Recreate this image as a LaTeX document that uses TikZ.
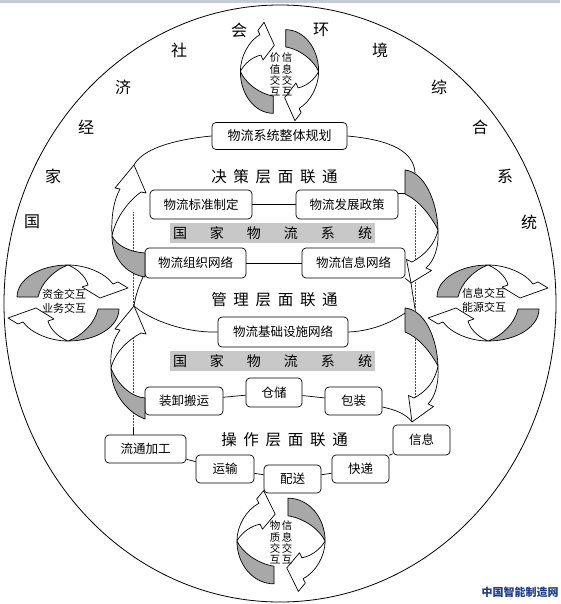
\documentclass[tikz,border=0pt]{standalone}
\usepackage{fontspec}
\setmainfont{Noto Sans CJK SC}
\definecolor{arrowgray}{RGB}{168,168,168}
\definecolor{bandgray}{RGB}{200,200,200}
\definecolor{topbar}{RGB}{196,202,212}
\definecolor{wmblue}{RGB}{30,60,140}
\newcommand\cycUpperArrow{%
  \filldraw[fill=arrowgray] (-51,-6) .. controls (-51,-24) and (-28,-38) .. (0,-38) .. controls (-14,-33) and (-27,-20) .. (-30,-6) -- cycle;
  \filldraw[fill=white] (0,-38) .. controls (18,-38) and (37,-30) .. (45,-19) -- (50,-21) -- (60,-15) -- (32,-5) -- (14,-16) -- (20,-18) .. controls (18,-26) and (10,-34) .. (0,-38) -- cycle;
}
\tikzset{
  cyc/.pic={\cycUpperArrow \begin{scope}[rotate=180]\cycUpperArrow\end{scope}},
  box/.style={draw, rounded corners=4pt, fill=white, inner sep=0pt, font=\fontsize{12.5}{14}\selectfont},
  ringtxt/.style={font=\fontsize{16}{16}\selectfont, inner sep=0pt},
  lvl/.style={font=\fontsize{15.5}{16}\selectfont, inner sep=0pt},
  band/.style={fill=bandgray, inner sep=0pt, font=\fontsize{14}{14}\selectfont, minimum width=205pt, minimum height=20pt},
  cyctxt/.style={font=\fontsize{10.5}{11.3}\selectfont, align=center, inner sep=0pt},
  sidetxt/.style={font=\fontsize{11}{14}\selectfont, align=center, inner sep=0pt},
  dotline/.style={densely dotted, line width=0.5pt, black!70},
}
\begin{document}
\begin{tikzpicture}[x=1pt, y=-1pt, line width=0.7pt, line join=round]
\useasboundingbox (0,0) rectangle (560,604);
\fill[white] (0,0) rectangle (560,604);
\fill[topbar] (0,0) rectangle (560,3);
\draw[line width=0.8pt] (280,303.5) ellipse [x radius=276pt, y radius=298.5pt];

% ring text
\node[ringtxt] (r1) at (32,222) {国};
\node[ringtxt] (r2) at (53,176) {家};
\node[ringtxt] (r3) at (86,127) {经};
\node[ringtxt] (r4) at (123,87) {济};
\node[ringtxt] (r5) at (179,50) {社};
\node[ringtxt] (r6) at (239,30) {会};
\node[ringtxt] (r7) at (321,30) {环};
\node[ringtxt] (r8) at (380,50) {境};
\node[ringtxt] (r9) at (439,87) {综};
\node[ringtxt] (r10) at (480,127) {合};
\node[ringtxt] (r11) at (505,176) {系};
\node[ringtxt] (r12) at (529,222) {统};

% bands
\node[band] (band1) at (272.5,233) {国\hspace{23pt}家\hspace{23pt}物\hspace{23pt}流\hspace{23pt}系\hspace{23pt}统};
\node[band] (band2) at (272.5,361) {国\hspace{23pt}家\hspace{23pt}物\hspace{23pt}流\hspace{23pt}系\hspace{23pt}统};

% dotted guide lines
\coordinate (ldot) at (133,427);
\draw[dotline] (133,212) -- (ldot);
\draw[dotline] (415,205) -- (415,410);

% level texts
\node[lvl] (lv1) at (274.5,177) {决\hspace{6.7pt}策\hspace{6.7pt}层\hspace{6.7pt}面\hspace{6.7pt}联\hspace{6.7pt}通};
\node[lvl] (lv2) at (274.5,300) {管\hspace{6.7pt}理\hspace{6.7pt}层\hspace{6.7pt}面\hspace{6.7pt}联\hspace{6.7pt}通};
\node[lvl] (lv3) at (284.5,440) {操\hspace{6.7pt}作\hspace{6.7pt}层\hspace{6.7pt}面\hspace{6.7pt}联\hspace{6.7pt}通};

% boxes
\node[box, minimum width=135pt, minimum height=27pt, font=\fontsize{13}{14}\selectfont] (gh) at (279.5,136) {物流系统整体规划};
\node[box, minimum width=102pt, minimum height=29pt] (bz) at (201,204.5) {物流标准制定};
\node[box, minimum width=102pt, minimum height=29pt] (fz) at (347,204.5) {物流发展政策};
\node[box, minimum width=101pt, minimum height=30pt] (zz) at (195.5,263) {物流组织网络};
\node[box, minimum width=103pt, minimum height=30pt] (xx) at (353.5,263) {物流信息网络};
\node[box, minimum width=130pt, minimum height=30pt] (jc) at (283,332) {物流基础设施网络};
\node[box, minimum width=78pt, minimum height=28pt] (zx) at (184,401) {装卸搬运};
\node[box, minimum width=56pt, minimum height=29pt] (cc) at (274,392.5) {仓储};
\node[box, minimum width=57pt, minimum height=28pt] (bzh) at (353.5,401) {包装};
\node[box, minimum width=57pt, minimum height=30pt] (xi) at (421.5,440) {信息};
\node[box, minimum width=81pt, minimum height=28pt] (lt) at (145.5,449) {流通加工};
\node[box, minimum width=58pt, minimum height=28pt] (ys) at (225,469) {运输};
\node[box, minimum width=57pt, minimum height=28pt] (ps) at (292.5,479) {配送};
\node[box, minimum width=57pt, minimum height=28pt] (kd) at (360.5,469) {快递};

% anchor points on the side arrows
\coordinate (l1tip) at (134,165);
\coordinate (l1tail) at (143,277);
\coordinate (l2tip) at (134,306);
\coordinate (r1top) at (415,173);
\coordinate (r1left) at (405,193);
\coordinate (r1tip) at (411,283);
\coordinate (r2top) at (415,309);
\coordinate (r2left) at (405,313);
\coordinate (r2tip) at (412,422);

% connectors
\draw (gh.west) .. controls (170,140) and (142,150) .. (l1tip);
\draw (gh.east) .. controls (392,140) and (414,152) .. (r1top);
\draw (fz.east |- r1left) -- (r1left);
\draw (bz.east) -- (fz.west);
\draw (zz.east) -- (xx.west);
\draw (xx.south east) -- (r1tip);
\draw (r1tip) -- (r2top);
\draw (l1tail) .. controls (138,288) and (135,298) .. (l2tip);
\draw (l2tip) .. controls (150,320) and (185,333) .. (jc.west);
\draw (jc.east) .. controls (375,331) and (395,320) .. (r2left);
\draw (zx) -- (cc);
\draw (cc) -- (bzh);
\draw ([yshift=-6pt]bzh.east) .. controls +(14,3) and +(-6,-8) .. (r2tip);
\draw (xi) -- (kd);
\draw (kd) -- (ps);
\draw (ps) -- (ys);
\draw (ys) -- (lt);
\draw (ldot) -- (ldot |- lt.north);

% left arrow 1
\filldraw[fill=arrowgray] (112,236) .. controls (112,258) and (126,274) .. (145,277) -- (145,253) .. controls (130,252) and (117,246) .. (112,236) -- cycle;
\filldraw[fill=white] (112,236) .. controls (111,215) and (114,200) .. (120,189) -- (115,188) -- (l1tip) -- (146,193) -- (141,192) .. controls (130,200) and (116,216) .. (112,236) -- cycle;
% left arrow 2
\filldraw[fill=arrowgray] (111,368) .. controls (111,392) and (126,412) .. (145,419) -- (145,398) .. controls (130,397) and (116,382) .. (111,368) -- cycle;
\filldraw[fill=white] (111,368) .. controls (110,350) and (113,340) .. (120,330) -- (115,329) -- (l2tip) -- (146,334) -- (141,333) .. controls (128,340) and (115,352) .. (111,368) -- cycle;
% right arrow 1
\filldraw[fill=arrowgray] (405,170) .. controls (424,172) and (437,200) .. (438,230) .. controls (430,214) and (418,200) .. (405,194) -- cycle;
\filldraw[fill=white] (438,230) .. controls (439,248) and (434,261) .. (426,268) -- (431.5,270.5) -- (r1tip) -- (406.5,259.5) -- (412,262) .. controls (425,255) and (435,244) .. (438,230) -- cycle;
% right arrow 2
\filldraw[fill=arrowgray] (405,308) .. controls (425,310) and (437,338) .. (438,366) .. controls (430,351) and (418,337) .. (405,332) -- cycle;
\filldraw[fill=white] (438,366) .. controls (439,384) and (435,397) .. (428,404) -- (433.5,406.5) -- (r2tip) -- (408.5,395.5) -- (414,398) .. controls (427,391) and (435,381) .. (438,366) -- cycle;

% cycle arrows
\pic[rotate=90, xscale=0.82, yscale=1.03] (cyctop) at (279.5,71.5) {cyc};
\pic[rotate=90, xscale=0.84, yscale=1.16] (cycbot) at (281,541) {cyc};
\pic (cycleft) at (68,303) {cyc};
\pic (cycright) at (488,303) {cyc};

\node[cyctxt] (tt1) at (275,74.5) {价\\值\\交\\互};
\node[cyctxt] (tt2) at (287,74.5) {信\\息\\交\\互};
\node[cyctxt] (bt1) at (275,542.5) {物\\质\\交\\互};
\node[cyctxt] (bt2) at (287,542.5) {信\\息\\交\\互};
\node[sidetxt] (lt1) at (64,301) {资金交互\\业务交互};
\node[sidetxt] (rt1) at (484,300) {信息交互\\能源交互};

% watermark
\node[font=\bfseries\fontsize{11}{11}\selectfont, text=wmblue, inner sep=0pt] (wm) at (520,592) {中国智能制造网};
\end{tikzpicture}
\end{document}
